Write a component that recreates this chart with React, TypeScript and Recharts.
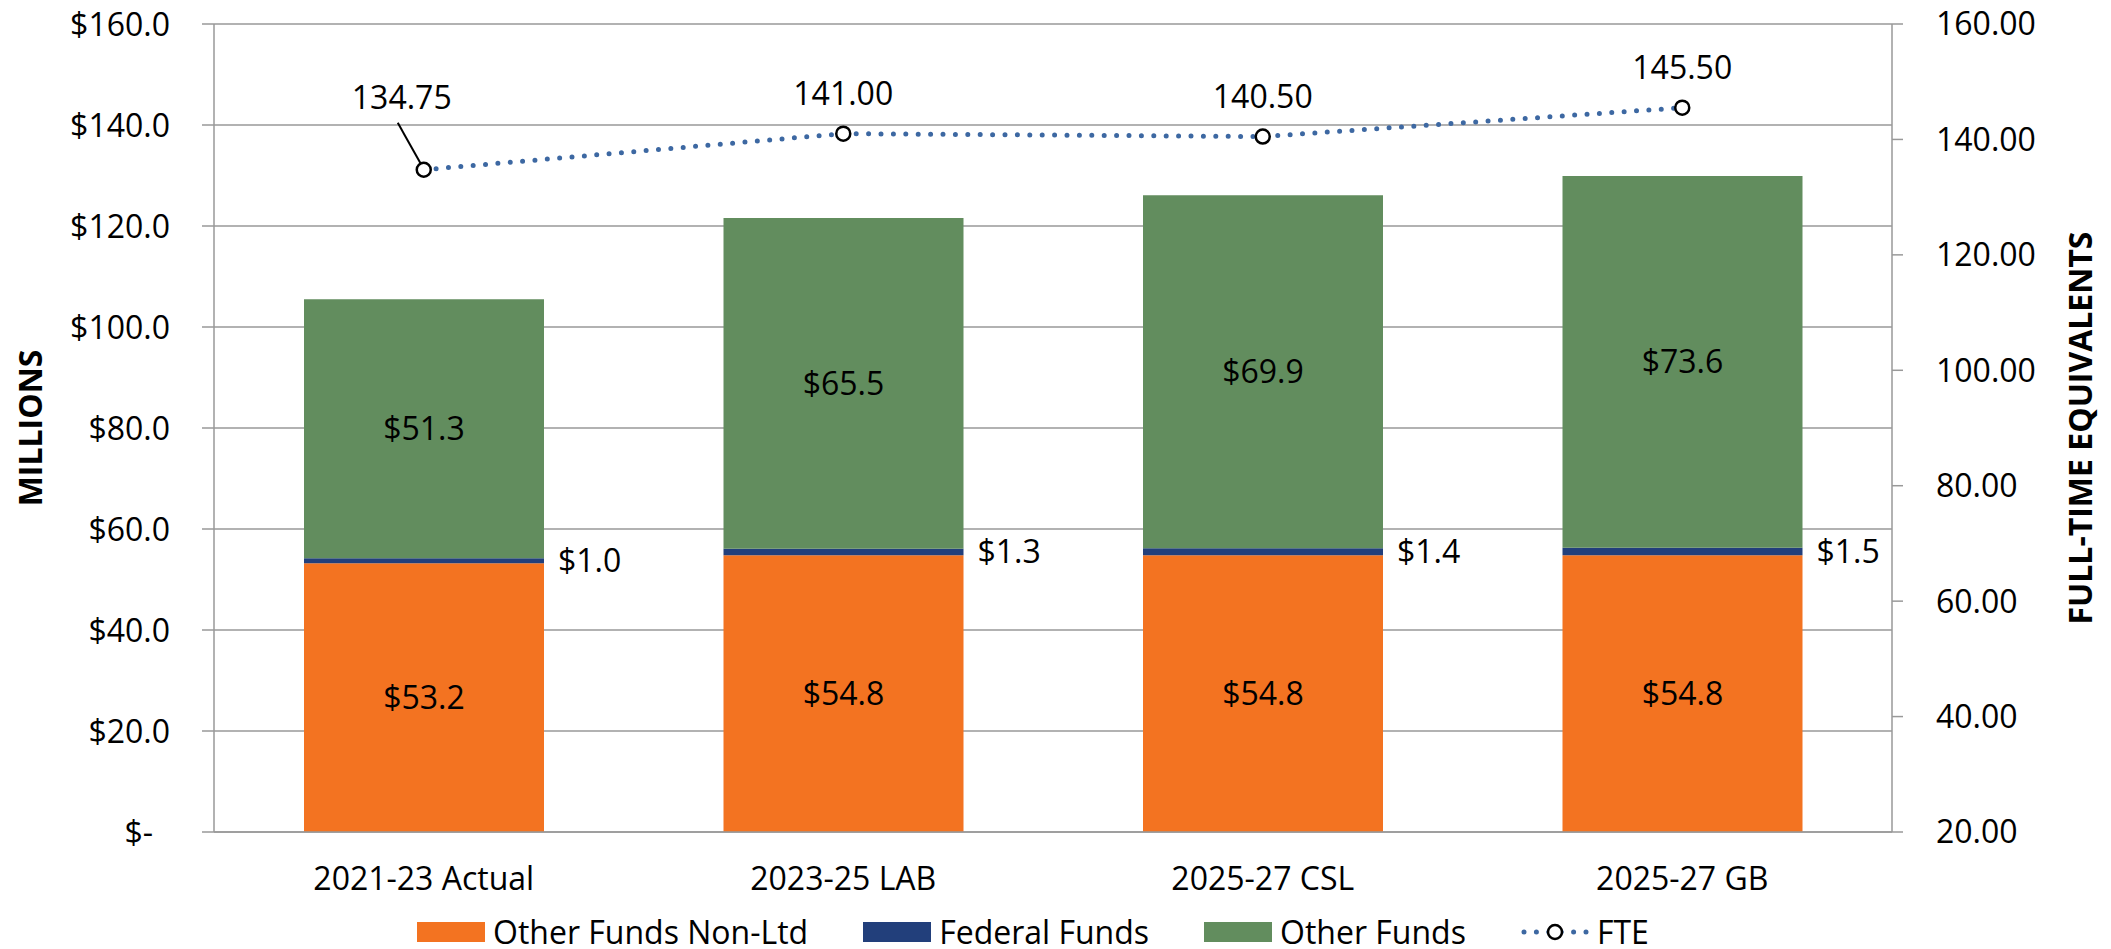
import { Bar, CartesianGrid, ComposedChart, LabelList, Legend, Line, XAxis, YAxis } from 'recharts'

document.body.style.margin = '0'

const categories = ['2021-23 Actual', '2023-25 LAB', '2025-27 CSL', '2025-27 GB']
const otherFundsNonLtd = [53.2, 54.8, 54.8, 54.8]
const federalFunds = [1.0, 1.3, 1.4, 1.5]
const otherFunds = [51.3, 65.5, 69.9, 73.6]
const fte = [134.75, 141.0, 140.5, 145.5]
const leftTicks = [0, 20, 40, 60, 80, 100, 120, 140, 160]
const rightTicks = [20, 40, 60, 80, 100, 120, 140, 160]

const ORANGE = '#F37321'
const NAVY = '#223F7B'
const GREEN = '#628D5E'
const LINE_BLUE = '#3D68A2'
const GRID = '#999999'
const FONT = "'Open Sans', sans-serif"

const data = categories.map((name, i) => ({
  name,
  nonLtd: otherFundsNonLtd[i],
  federal: federalFunds[i],
  other: otherFunds[i],
  fte: fte[i],
}))

const money = (v: number) => `$${v.toFixed(1)}`

function LeftTick(props: any) {
  const { x, y, payload } = props
  const v = payload.value
  return (
    <text x={v === 0 ? x - 17 : x} y={y} dy="0.36em" textAnchor="end" fill="#000" fontSize={32} fontFamily={FONT}>
      {v === 0 ? '$-' : money(v)}
    </text>
  )
}

function AxisTitle(props: any) {
  const { viewBox, side, text } = props
  const vb = viewBox || { x: 0, y: 0, width: 0, height: 0 }
  const cx = side === 'left' ? vb.x + 30 : vb.x + 188
  const cy = vb.y + vb.height / 2
  return (
    <text
      x={cx}
      y={cy}
      transform={`rotate(-90 ${cx} ${cy})`}
      textAnchor="middle"
      dy="0.36em"
      fontSize={32}
      fontWeight="bold"
      fontFamily={FONT}
      fill="#000"
    >
      {text}
    </text>
  )
}

function FteLabel(props: any) {
  const x = props.x ?? props.viewBox?.x
  const y = props.y ?? props.viewBox?.y
  const { value, index } = props
  if (x == null || y == null) return null
  const txt = Number(value).toFixed(2)
  if (index === 0) {
    return (
      <g>
        <line x1={x - 26} y1={y - 47} x2={x - 3} y2={y - 6} stroke="#000" strokeWidth={2} />
        <text x={x - 22} y={y - 72} dy="0.36em" textAnchor="middle" fontSize={32} fontFamily={FONT} fill="#000">
          {txt}
        </text>
      </g>
    )
  }
  return (
    <text x={x} y={y - 40} dy="0.36em" textAnchor="middle" fontSize={32} fontFamily={FONT} fill="#000">
      {txt}
    </text>
  )
}

const legendItems = [
  { label: 'Other Funds Non-Ltd', color: ORANGE, kind: 'rect' },
  { label: 'Federal Funds', color: NAVY, kind: 'rect' },
  { label: 'Other Funds', color: GREEN, kind: 'rect' },
  { label: 'FTE', color: LINE_BLUE, kind: 'line' },
]

function ChartLegend() {
  return (
    <div
      style={{
        display: 'flex',
        alignItems: 'center',
        height: 34,
        paddingLeft: 417,
        gap: 55,
        fontFamily: FONT,
        fontSize: 32,
        color: '#000',
      }}
    >
      {legendItems.map((it) => (
        <div key={it.label} style={{ display: 'flex', alignItems: 'center', gap: 8 }}>
          {it.kind === 'rect' ? (
            <svg width={68} height={20}>
              <rect width={68} height={20} fill={it.color} />
            </svg>
          ) : (
            <svg width={68} height={20}>
              <line x1={3} y1={10} x2={65} y2={10} stroke={it.color} strokeWidth={5} strokeDasharray="0 12.4" strokeLinecap="round" />
              <circle cx={34} cy={10} r={7} fill="#fff" stroke="#000" strokeWidth={2.5} />
            </svg>
          )}
          <span style={{ lineHeight: '34px', whiteSpace: 'nowrap' }}>{it.label}</span>
        </div>
      ))}
    </div>
  )
}

export default function App() {
  return (
    <ComposedChart
      width={2111}
      height={949}
      data={data}
      margin={{ top: 24, right: 0, bottom: 0, left: 0 }}
      style={{ fontFamily: FONT, background: '#fff' }}
    >
      <CartesianGrid yAxisId="left" vertical={false} stroke={GRID} strokeWidth={1.5} />
      <XAxis
        dataKey="name"
        height={83}
        tickLine={false}
        tickSize={0}
        tickMargin={35}
        axisLine={{ stroke: GRID, strokeWidth: 1.5 }}
        tick={{ fill: '#000', fontSize: 32, fontFamily: FONT }}
      />
      <YAxis
        yAxisId="left"
        orientation="left"
        width={214}
        domain={[0, 160]}
        ticks={leftTicks}
        interval={0}
        tickSize={12}
        tickMargin={32}
        tickLine={{ stroke: GRID, strokeWidth: 1.5 }}
        axisLine={{ stroke: GRID, strokeWidth: 1.5 }}
        tick={<LeftTick />}
        label={<AxisTitle side="left" text="MILLIONS" />}
      />
      <YAxis
        yAxisId="right"
        orientation="right"
        width={219}
        domain={[20, 160]}
        ticks={rightTicks}
        interval={0}
        tickSize={11}
        tickMargin={33}
        tickLine={{ stroke: GRID, strokeWidth: 1.5 }}
        axisLine={{ stroke: GRID, strokeWidth: 1.5 }}
        tickFormatter={(v: number) => v.toFixed(2)}
        tick={{ fill: '#000', fontSize: 32, fontFamily: FONT }}
        label={<AxisTitle side="right" text="FULL-TIME EQUIVALENTS" />}
      />
      <Legend verticalAlign="bottom" height={34} content={<ChartLegend />} />
      <Bar yAxisId="left" dataKey="nonLtd" name="Other Funds Non-Ltd" stackId="a" fill={ORANGE} barSize={240} isAnimationActive={false}>
        <LabelList dataKey="nonLtd" position="center" formatter={(v: any) => money(Number(v))} fill="#000" fontSize={32} fontFamily={FONT} />
      </Bar>
      <Bar yAxisId="left" dataKey="federal" name="Federal Funds" stackId="a" fill={NAVY} barSize={240} isAnimationActive={false}>
        <LabelList dataKey="federal" position="right" offset={14} formatter={(v: any) => money(Number(v))} fill="#000" fontSize={32} fontFamily={FONT} />
      </Bar>
      <Bar yAxisId="left" dataKey="other" name="Other Funds" stackId="a" fill={GREEN} barSize={240} isAnimationActive={false}>
        <LabelList dataKey="other" position="center" formatter={(v: any) => money(Number(v))} fill="#000" fontSize={32} fontFamily={FONT} />
      </Bar>
      <Line
        yAxisId="right"
        type="linear"
        dataKey="fte"
        name="FTE"
        stroke={LINE_BLUE}
        strokeWidth={5}
        strokeDasharray="0 12.4"
        strokeLinecap="round"
        dot={{ r: 7, fill: '#fff', stroke: '#000', strokeWidth: 2.5, strokeDasharray: 'none' }}
        activeDot={false}
        isAnimationActive={false}
      >
        <LabelList dataKey="fte" content={<FteLabel />} />
      </Line>
    </ComposedChart>
  )
}
